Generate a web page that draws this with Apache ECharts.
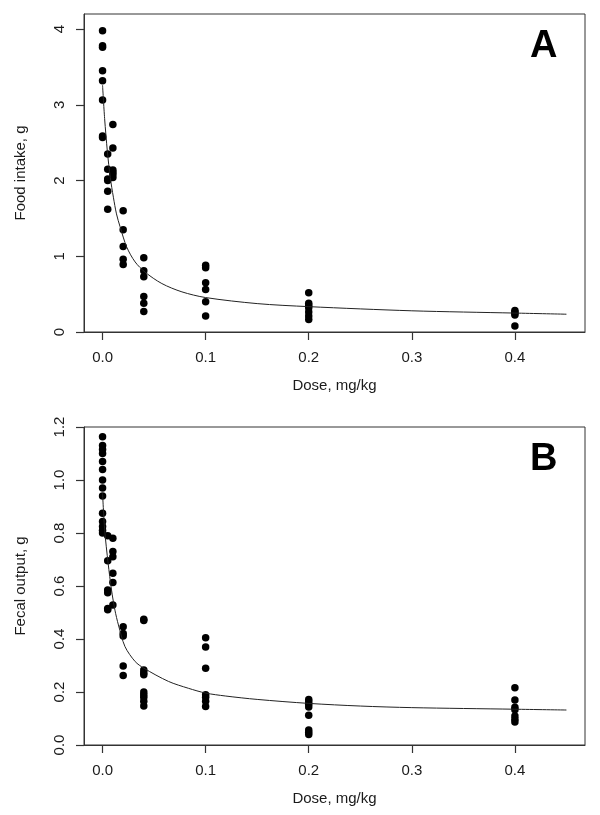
<!DOCTYPE html>
<html>
<head>
<meta charset="utf-8">
<script src="https://cdn.jsdelivr.net/npm/echarts@6/dist/echarts.min.js"></script>
<style>
html,body{margin:0;padding:0;background:#fff;}
#chart{width:600px;height:815px;}
</style>
</head>
<body>
<div id="chart"></div>
<script>
// Dose groups (mg/kg)
const doses = [0, 0.005, 0.01, 0.02, 0.04, 0.1, 0.2, 0.4];

// Panel A: food intake (g), per dose group
const foodIntakeByDose = [
  [3.98, 3.78, 3.76, 3.45, 3.32, 3.065, 2.59, 2.57],
  [2.35, 2.15, 2.02, 2.00, 1.86, 1.62],
  [2.74, 2.43, 2.14, 2.11, 2.08, 2.04],
  [1.60, 1.35, 1.13, 0.96, 0.89],
  [0.98, 0.81, 0.73, 0.47, 0.38, 0.27],
  [0.88, 0.85, 0.65, 0.56, 0.40, 0.21],
  [0.52, 0.38, 0.35, 0.32, 0.265, 0.21, 0.165],
  [0.285, 0.265, 0.245, 0.225, 0.08]
];
// Panel A fitted curve
const foodCurveX = [0, 0.002, 0.0047, 0.0075, 0.0105, 0.0135, 0.017, 0.0235, 0.0316, 0.0413, 0.0575, 0.077, 0.1, 0.15, 0.2, 0.3, 0.4, 0.45];
const foodCurveY = [3.26, 2.82, 2.38, 2.04, 1.78, 1.56, 1.39, 1.12, 0.925, 0.79, 0.64, 0.53, 0.455, 0.375, 0.335, 0.28, 0.25, 0.235];

// Panel B: fecal output (g), per dose group
const fecalOutputByDose = [
  [1.163, 1.13, 1.115, 1.10, 1.07, 1.04, 1.00, 0.97, 0.94, 0.875, 0.843, 0.825, 0.81, 0.80],
  [0.79, 0.695, 0.585, 0.575, 0.515, 0.51],
  [0.78, 0.73, 0.71, 0.648, 0.613, 0.528],
  [0.446, 0.421, 0.411, 0.298, 0.262],
  [0.475, 0.47, 0.283, 0.273, 0.265, 0.20, 0.19, 0.18, 0.165, 0.147],
  [0.405, 0.37, 0.29, 0.19, 0.18, 0.165, 0.145],
  [0.172, 0.163, 0.154, 0.143, 0.112, 0.057, 0.048, 0.04],
  [0.216, 0.17, 0.142, 0.133, 0.109, 0.097, 0.087]
];
// Panel B fitted curve
const fecalCurveX = [0, 0.0021, 0.0054, 0.0087, 0.012, 0.0154, 0.0218, 0.0316, 0.04, 0.0639, 0.0833, 0.1, 0.119, 0.15, 0.2, 0.25, 0.3, 0.4, 0.45];
const fecalCurveY = [0.95, 0.81, 0.686, 0.585, 0.509, 0.453, 0.371, 0.315, 0.29, 0.24, 0.214, 0.196, 0.185, 0.172, 0.157, 0.147, 0.141, 0.135, 0.132];

// Axis ticks
const xTicks = [0, 0.1, 0.2, 0.3, 0.4];
const yTicksA = [0, 1, 2, 3, 4];
const yTicksB = [0, 0.2, 0.4, 0.6, 0.8, 1.0, 1.2];

const xTitle = 'Dose, mg/kg';
const yTitleA = 'Food intake, g';
const yTitleB = 'Fecal output, g';

const X_MIN = -0.018, X_MAX = 0.468;
const Y_MAX_A = 4.2, Y_MAX_B = 1.2;

function toPoints(byDose) {
  const pts = [];
  byDose.forEach((vals, i) => vals.forEach(v => pts.push([doses[i], v])));
  return pts;
}
function zip(xs, ys) { return xs.map((x, i) => [x, ys[i]]); }

const FONT = 'Liberation Sans, Arial, sans-serif';
const textCol = '#1a1a1a';
const frameCol = '#333';

function xAxisCfg(gridIndex) {
  return {
    gridIndex, type: 'value', min: X_MIN, max: X_MAX,
    name: xTitle, nameLocation: 'middle', nameGap: 46,
    nameTextStyle: { fontFamily: FONT, fontSize: 15, color: textCol },
    axisLine: { show: true, onZero: false, lineStyle: { color: frameCol } },
    axisTick: { show: true, length: 8, customValues: xTicks, lineStyle: { color: frameCol, width: 1.2 } },
    axisLabel: { margin: 18, customValues: xTicks, fontFamily: FONT, fontSize: 15, color: textCol,
      formatter: v => v.toFixed(1) },
    splitLine: { show: false }
  };
}
function yAxisCfg(gridIndex, max, ticks, name, digits) {
  return {
    gridIndex, type: 'value', min: 0, max: max,
    name: name, nameLocation: 'middle', nameGap: 56, nameRotate: 90,
    nameTextStyle: { fontFamily: FONT, fontSize: 15, color: textCol },
    axisLine: { show: true, onZero: false, lineStyle: { color: frameCol } },
    axisTick: { show: true, length: 8, customValues: ticks, lineStyle: { color: frameCol, width: 1.2 } },
    axisLabel: { rotate: 90, margin: 17, customValues: ticks, fontFamily: FONT, fontSize: 15, color: textCol,
      formatter: v => v.toFixed(digits) },
    splitLine: { show: false }
  };
}

const chart = echarts.init(document.getElementById('chart'), null, { renderer: 'canvas' });
chart.setOption({
  animation: false,
  grid: [
    { left: 84, top: 14, width: 501, height: 318, show: true, borderColor: frameCol, borderWidth: 1 },
    { left: 84, top: 427, width: 501, height: 318, show: true, borderColor: frameCol, borderWidth: 1 }
  ],
  xAxis: [xAxisCfg(0), xAxisCfg(1)],
  yAxis: [
    yAxisCfg(0, Y_MAX_A, yTicksA, yTitleA, 0),
    yAxisCfg(1, Y_MAX_B, yTicksB, yTitleB, 1)
  ],
  series: [
    { type: 'line', xAxisIndex: 0, yAxisIndex: 0, data: zip(foodCurveX, foodCurveY), showSymbol: false,
      smooth: 0.3, lineStyle: { color: '#222', width: 1 } },
    { type: 'scatter', xAxisIndex: 0, yAxisIndex: 0, data: toPoints(foodIntakeByDose), symbol: 'circle', symbolSize: 7.5,
      itemStyle: { color: '#000', opacity: 1 } },
    { type: 'line', xAxisIndex: 1, yAxisIndex: 1, data: zip(fecalCurveX, fecalCurveY), showSymbol: false,
      smooth: 0.3, lineStyle: { color: '#222', width: 1 } },
    { type: 'scatter', xAxisIndex: 1, yAxisIndex: 1, data: toPoints(fecalOutputByDose), symbol: 'circle', symbolSize: 7.5,
      itemStyle: { color: '#000', opacity: 1 } }
  ],
  graphic: [
    { type: 'text', left: 530, top: 28, style: { text: 'A', font: 'bold 38px ' + FONT, fill: '#000' } },
    { type: 'text', left: 530, top: 441, style: { text: 'B', font: 'bold 38px ' + FONT, fill: '#000' } }
  ]
});
</script>
</body>
</html>
